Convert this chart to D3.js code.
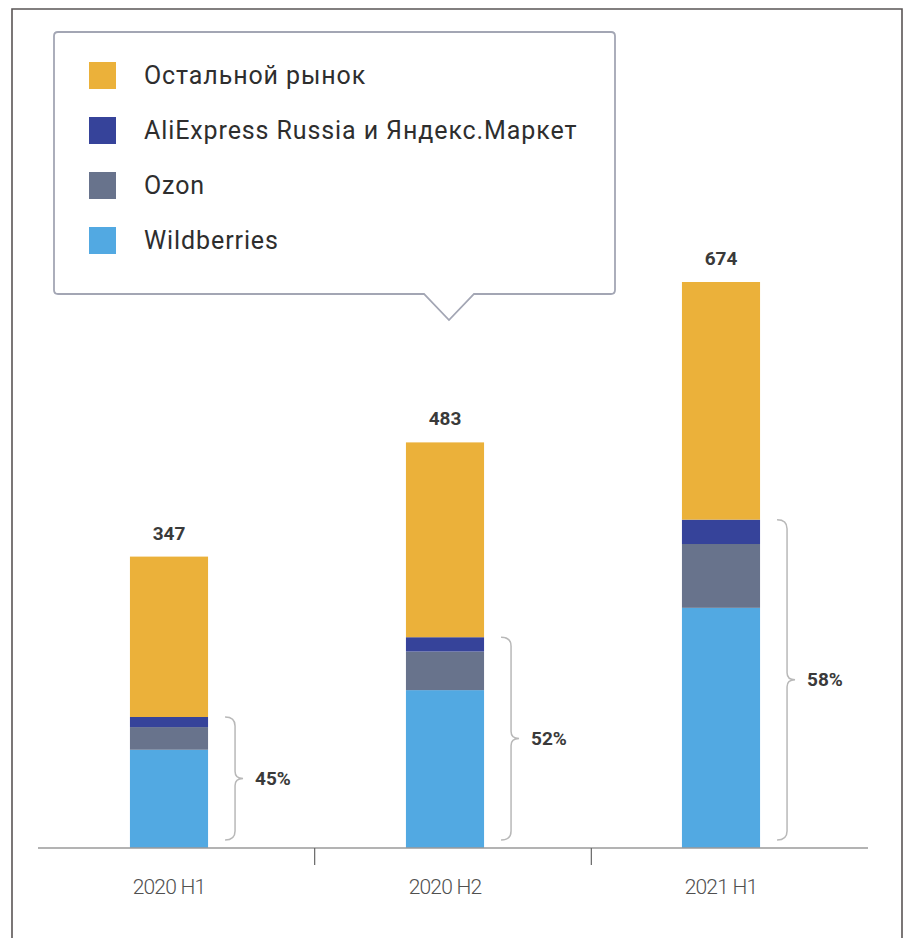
<!DOCTYPE html>
<meta charset="utf-8">
<script src="https://d3js.org/d3.v7.min.js"></script>
<style>
  body { margin: 0; background: #fff; }
  text { font-family: Roboto, "Noto Sans", sans-serif; }
</style>
<div id="chart"></div>
<script>
// periods on the x axis
var periods = ["2020 H1", "2020 H2", "2021 H1"];
// stacked segments, bottom to top
var wildberries = [117, 188, 286];
var ozon = [27, 46, 76];
var aliYandex = [12, 17, 29];
var restMarket = [191, 232, 283];
var totals = [347, 483, 674];
var shareLabels = ["45%", "52%", "58%"];

var seriesNames = ["Wildberries", "Ozon", "AliExpress Russia и Яндекс.Маркет", "Остальной рынок"];
var seriesColors = ["#52a9e2", "#68738c", "#36439a", "#ebb13a"];

var width = 906, height = 938;
var baseY = 848, topY = 282;

var svg = d3.select("#chart")
  .append("svg")
    .attr("width", width)
    .attr("height", height);

svg.append("rect").attr("width", width).attr("height", height).attr("fill", "#fff");

// outer frame (no bottom edge)
svg.append("path")
  .attr("d", "M12," + height + "L12,9L902,9L902," + height)
  .attr("fill", "none")
  .attr("stroke", "#5a5555")
  .attr("stroke-width", 1.6);

// build rows for d3.stack
var rows = periods.map(function(p, i) {
  return {
    period: p,
    "Wildberries": wildberries[i],
    "Ozon": ozon[i],
    "AliExpress Russia и Яндекс.Маркет": aliYandex[i],
    "Остальной рынок": restMarket[i]
  };
});
var stacked = d3.stack().keys(seriesNames)(rows);

// scales
var xAxisBand = d3.scaleBand().domain(periods).range([38, 868]);
var x = d3.scaleBand().domain(periods).range([31, 859])
  .paddingInner(0.717).paddingOuter(0.3585);
var y = d3.scaleLinear().domain([0, d3.max(totals)]).range([baseY, topY]);
var color = d3.scaleOrdinal().domain(seriesNames).range(seriesColors);

// bars
svg.append("g")
  .selectAll("g")
  .data(stacked)
  .enter().append("g")
    .attr("fill", function(d) { return color(d.key); })
  .selectAll("rect")
  .data(function(d) { return d; })
  .enter().append("rect")
    .attr("x", function(d) { return x(d.data.period); })
    .attr("y", function(d) { return y(d[1]); })
    .attr("width", x.bandwidth())
    .attr("height", function(d) { return y(d[0]) - y(d[1]); });

// axis line and ticks between periods
svg.append("line")
  .attr("x1", xAxisBand.range()[0]).attr("x2", xAxisBand.range()[1])
  .attr("y1", baseY).attr("y2", baseY)
  .attr("stroke", "#9a9a9a").attr("stroke-width", 1.5);

svg.selectAll(".tick")
  .data(periods.slice(1))
  .enter().append("line")
    .attr("x1", function(d) { return xAxisBand(d); })
    .attr("x2", function(d) { return xAxisBand(d); })
    .attr("y1", baseY).attr("y2", baseY + 17)
    .attr("stroke", "#666").attr("stroke-width", 1.2);

svg.selectAll(".xlabel")
  .data(periods)
  .enter().append("text")
    .attr("x", function(d) { return x(d) + x.bandwidth() / 2; })
    .attr("y", 894)
    .attr("text-anchor", "middle")
    .attr("font-size", "21px")
    .attr("font-weight", 300)
    .attr("letter-spacing", "-0.8px")
    .attr("fill", "#505050")
    .text(function(d) { return d; });

// totals above bars
svg.selectAll(".total")
  .data(periods)
  .enter().append("text")
    .attr("x", function(d) { return x(d) + x.bandwidth() / 2; })
    .attr("y", function(d, i) { return y(totals[i]) - 17; })
    .attr("text-anchor", "middle")
    .attr("font-size", "19px")
    .attr("font-weight", 700)
    .attr("fill", "#3a3a3a")
    .text(function(d, i) { return totals[i]; });

// curly braces for the share of the top marketplaces
function bracePath(r, top, bottom) {
  var mid = (top + bottom) / 2;
  var v = r + 27;
  return "M" + (r + 17) + "," + top +
    "Q" + v + "," + top + " " + v + "," + (top + 9) +
    "L" + v + "," + (mid - 7) +
    "Q" + v + "," + mid + " " + (r + 35) + "," + mid +
    "Q" + v + "," + mid + " " + v + "," + (mid + 7) +
    "L" + v + "," + (bottom - 9) +
    "Q" + v + "," + bottom + " " + (r + 17) + "," + bottom;
}

periods.forEach(function(p, i) {
  var r = x(p) + x.bandwidth();
  var top = y(wildberries[i] + ozon[i] + aliYandex[i]);
  var bottom = baseY - 8;
  svg.append("path")
    .attr("d", bracePath(r, top, bottom))
    .attr("fill", "none")
    .attr("stroke", "#b8b8b8")
    .attr("stroke-width", 1.5);
  svg.append("text")
    .attr("x", r + 47)
    .attr("y", (top + bottom) / 2)
    .attr("dy", "0.35em")
    .attr("font-size", "19px")
    .attr("font-weight", 700)
    .attr("fill", "#3a3a3a")
    .text(shareLabels[i]);
});

// legend callout box with pointer
var lx0 = 54, ly0 = 32, lx1 = 615, ly1 = 294, rad = 4;
svg.append("path")
  .attr("d",
    "M" + (lx0 + rad) + "," + ly0 +
    "L" + (lx1 - rad) + "," + ly0 +
    "Q" + lx1 + "," + ly0 + " " + lx1 + "," + (ly0 + rad) +
    "L" + lx1 + "," + (ly1 - rad) +
    "Q" + lx1 + "," + ly1 + " " + (lx1 - rad) + "," + ly1 +
    "L474," + ly1 + "L449,320L424," + ly1 +
    "L" + (lx0 + rad) + "," + ly1 +
    "Q" + lx0 + "," + ly1 + " " + lx0 + "," + (ly1 - rad) +
    "L" + lx0 + "," + (ly0 + rad) +
    "Q" + lx0 + "," + ly0 + " " + (lx0 + rad) + "," + ly0 + "Z")
  .attr("fill", "#fff")
  .attr("stroke", "#a3a6b4")
  .attr("stroke-width", 1.8);

var legendOrder = seriesNames.slice().reverse();
var legend = svg.selectAll(".legend")
  .data(legendOrder)
  .enter().append("g")
    .attr("transform", function(d, i) { return "translate(89," + (75 + i * 55) + ")"; });

legend.append("rect")
  .attr("x", 0).attr("y", -13)
  .attr("width", 27).attr("height", 27)
  .attr("fill", function(d) { return color(d); });

legend.append("text")
  .attr("x", 55)
  .attr("y", 0)
  .attr("dy", "0.36em")
  .attr("font-size", "25px")
  .attr("font-weight", 400)
  .attr("letter-spacing", "0.9px")
  .attr("fill", "#2e2e2e")
  .text(function(d) { return d; });
</script>
